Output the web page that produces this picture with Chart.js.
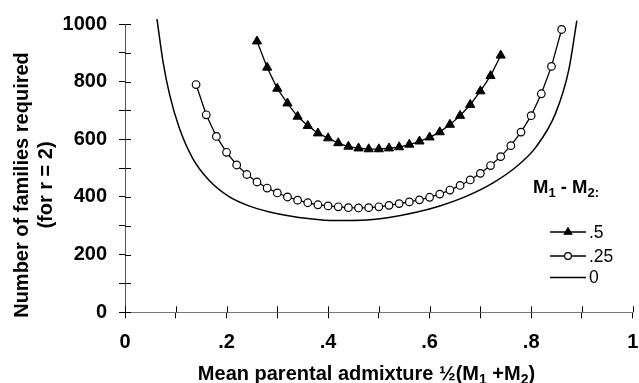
<!DOCTYPE html>
<html>
<head>
<meta charset="utf-8">
<script src="https://cdn.jsdelivr.net/npm/chart.js@4/dist/chart.umd.min.js"></script>
<style>
html,body{margin:0;padding:0;background:#fff;}
#wrap{width:639px;height:383px;position:relative;}
</style>
</head>
<body>
<div id="wrap"><canvas id="c" width="639" height="383"></canvas></div>
<script>
// ---- data ----
const seriesLabels = ['.5', '.25', '0'];

const xHalf = [0.26,0.28,0.30,0.32,0.34,0.36,0.38,0.40,0.42,0.44,0.46,0.48,0.50,
               0.52,0.54,0.56,0.58,0.60,0.62,0.64,0.66,0.68,0.70,0.72,0.74];
const yHalf = [940,849,776,725,679,647,621,604,587,575,569,566,566,
               569,573,582,593,607,625,651,682,720,767,820,891];

const xQuarter = [0.14,0.16,0.18,0.20,0.22,0.24,0.26,0.28,0.30,0.32,0.34,0.36,0.38,
                  0.40,0.42,0.44,0.46,0.48,0.50,0.52,0.54,0.56,0.58,0.60,0.62,0.64,
                  0.66,0.68,0.70,0.72,0.74,0.76,0.78,0.80,0.82,0.84,0.86];
const yQuarter = [790,685,610,555,511,478,452,431,414,400,389,380,373,
                  369,366,363,362,363,366,371,377,383,390,399,410,424,
                  440,459,482,509,540,578,625,682,758,853,981];

const xZero = [0.063,0.075,0.088,0.107,0.133,0.166,0.205,0.244,0.283,0.322,0.361,0.413,
               0.465,0.517,0.569,0.620,0.673,0.725,0.770,0.809,0.848,0.874,0.890];
const yZero = [1017,868,754,639,535,457,401,369,349,335,325,318,
               319,328,345,369,403,449,504,572,690,840,1012];

const xTickLabels = ['0', '', '.2', '', '.4', '', '.6', '', '.8', '', '1'];
const yTickLabels = ['0', '', '200', '', '400', '', '600', '', '800', '', '1000'];

const yTitleLines = ['Number of families required', '(for r = 2)'];
const xTitleParts = [['Mean parental admixture \u00BD(M', false], ['1', true], [' +M', false], ['2', true], [')', false]];
const legendTitleParts = [['M', false], ['1', true], [' - M', false], ['2:', true]];

// ---- chart ----
const FONT = '"Liberation Sans", Arial, Helvetica, sans-serif';

function toPoints(xs, ys) { return xs.map((x, i) => ({x: x, y: ys[i]})); }

function drawRich(ctx, parts, x, y, size, weight, align) {
  const subSize = Math.round(size * 0.68);
  let w = 0;
  const widths = parts.map(([t, sub]) => {
    ctx.font = weight + ' ' + (sub ? subSize : size) + 'px ' + FONT;
    const m = ctx.measureText(t).width; w += m; return m;
  });
  let cx = align === 'center' ? x - w / 2 : x;
  ctx.textAlign = 'left';
  ctx.textBaseline = 'alphabetic';
  parts.forEach(([t, sub], i) => {
    ctx.font = weight + ' ' + (sub ? subSize : size) + 'px ' + FONT;
    ctx.fillText(t, cx, sub ? y + size * 0.22 : y);
    cx += widths[i];
  });
}

const decorPlugin = {
  id: 'decor',
  afterDraw(chart) {
    const ctx = chart.ctx;
    const xs = chart.scales.x, ys = chart.scales.y;
    ctx.save();
    // inner half of crossing tick marks
    ctx.strokeStyle = '#000';
    ctx.lineWidth = 1;
    ctx.beginPath();
    ys.ticks.forEach(t => {
      const p = Math.round(ys.getPixelForValue(t.value)) + 0.5;
      ctx.moveTo(xs.left, p); ctx.lineTo(xs.left + 6, p);
    });
    xs.ticks.forEach(t => {
      const p = Math.round(xs.getPixelForValue(t.value)) + 0.5;
      ctx.moveTo(p, ys.bottom); ctx.lineTo(p, ys.bottom - 6);
    });
    ctx.stroke();

    ctx.fillStyle = '#000';
    // y title
    ctx.save();
    ctx.font = 'bold 20px ' + FONT;
    ctx.textAlign = 'center';
    ctx.textBaseline = 'alphabetic';
    ctx.translate(28, 185);
    ctx.rotate(-Math.PI / 2);
    ctx.fillText(yTitleLines[0], 0, 0);
    ctx.fillText(yTitleLines[1], 0, 24);
    ctx.restore();

    // x title
    drawRich(ctx, xTitleParts, 366.5, 379.5, 20, 'bold', 'center');

    // legend
    drawRich(ctx, legendTitleParts, 533, 193, 18.5, 'bold', 'left');
    const rows = [232, 256, 277.5];
    chart.data.datasets.forEach((ds, i) => {
      const y = rows[i];
      ctx.strokeStyle = '#000';
      ctx.lineWidth = 1.3;
      ctx.beginPath(); ctx.moveTo(550, y); ctx.lineTo(586, y); ctx.stroke();
      if (ds.pointStyle === 'triangle') {
        const r = 4.3;
        ctx.beginPath();
        ctx.moveTo(568, y - r);
        ctx.lineTo(568 + r * 0.866, y + r * 0.5);
        ctx.lineTo(568 - r * 0.866, y + r * 0.5);
        ctx.closePath(); ctx.fillStyle = '#000'; ctx.fill(); ctx.stroke();
      } else if (ds.pointRadius > 0) {
        ctx.beginPath(); ctx.arc(568, y, 3.4, 0, Math.PI * 2);
        ctx.fillStyle = '#fff'; ctx.fill(); ctx.lineWidth = 1.2; ctx.stroke();
      }
      ctx.fillStyle = '#000';
      ctx.font = '17.5px ' + FONT;
      ctx.textAlign = 'left';
      ctx.textBaseline = 'middle';
      ctx.fillText(ds.label, 589, y + 1);
    });
    ctx.restore();
  }
};

const tickFont = {family: FONT, size: 20, weight: 'bold'};

new Chart(document.getElementById('c'), {
  type: 'line',
  data: {
    datasets: [
      {
        label: seriesLabels[0],
        data: toPoints(xHalf, yHalf),
        borderColor: '#000', borderWidth: 1.3,
        pointStyle: 'triangle', pointRadius: 5.3,
        pointBackgroundColor: '#000', pointBorderColor: '#000', pointBorderWidth: 1,
        tension: 0, clip: false
      },
      {
        label: seriesLabels[1],
        data: toPoints(xQuarter, yQuarter),
        borderColor: '#000', borderWidth: 1.3,
        pointStyle: 'circle', pointRadius: 3.8,
        pointBackgroundColor: '#fff', pointBorderColor: '#000', pointBorderWidth: 1.2,
        tension: 0, clip: false
      },
      {
        label: seriesLabels[2],
        data: toPoints(xZero, yZero),
        borderColor: '#000', borderWidth: 1.5,
        pointRadius: 0, cubicInterpolationMode: 'monotone', clip: false
      }
    ]
  },
  options: {
    responsive: false,
    animation: false,
    devicePixelRatio: 1,
    layout: {padding: {top: 21.7, right: 1, left: 0, bottom: 0}},
    plugins: {legend: {display: false}, tooltip: {enabled: false}},
    scales: {
      x: {
        type: 'linear', min: 0, max: 1,
        ticks: {
          stepSize: 0.1, autoSkip: false, maxRotation: 0, color: '#000', font: tickFont, padding: 12,
          callback: v => xTickLabels[Math.round(v * 10)] ?? ''
        },
        grid: {drawOnChartArea: false, drawTicks: true, tickLength: 6, color: '#000', lineWidth: 1},
        border: {display: true, color: '#777', width: 1},
        afterFit(s) { s.height = 70.7; s.paddingLeft = 0; s.paddingRight = 0; }
      },
      y: {
        type: 'linear', min: 0, max: 1000,
        ticks: {
          stepSize: 100, autoSkip: false, color: '#000', font: tickFont, padding: 12,
          callback: v => yTickLabels[Math.round(v / 100)] ?? ''
        },
        grid: {drawOnChartArea: false, drawTicks: true, tickLength: 6, color: '#000', lineWidth: 1},
        border: {display: true, color: '#555', width: 1},
        afterFit(s) { s.width = 125; }
      }
    }
  },
  plugins: [decorPlugin]
});
</script>
</body>
</html>
